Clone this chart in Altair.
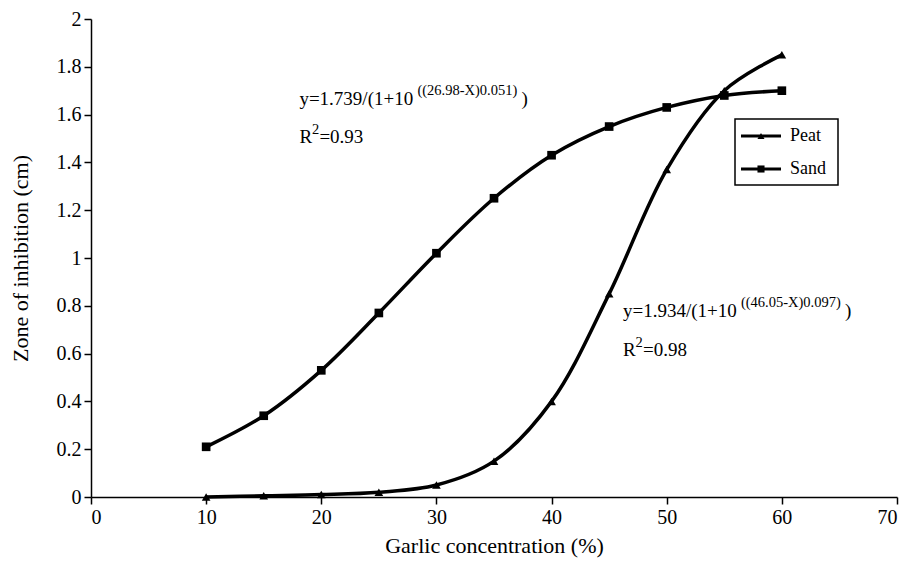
import altair as alt
import pandas as pd

conc = [10, 15, 20, 25, 30, 35, 40, 45, 50, 55, 60]
peat = [0.0, 0.005, 0.01, 0.02, 0.05, 0.15, 0.40, 0.85, 1.37, 1.70, 1.85]
sand = [0.21, 0.34, 0.53, 0.77, 1.02, 1.25, 1.43, 1.55, 1.63, 1.68, 1.70]

x_ticks = [0, 10, 20, 30, 40, 50, 60, 70]
y_ticks = [0, 0.2, 0.4, 0.6, 0.8, 1, 1.2, 1.4, 1.6, 1.8, 2]

series_names = ["Peat", "Sand"]
series_shapes = ["triangle-up", "square"]

# annotations (data units anchor)
eq_base = ["y=1.739/(1+10", "y=1.934/(1+10"]
eq_sup = ["((26.98-X)0.051)", "((46.05-X)0.097)"]
eq_x = [18.1, 46.2]
eq_y = [1.665, 0.78]
r2_vals = ["=0.93", "=0.98"]
r2_y = [1.505, 0.615]

W, H = 806, 478
FONT = "Liberation Serif"

df = pd.DataFrame({
    "x": conc * 2,
    "y": peat + sand,
    "s": ["Peat"] * len(conc) + ["Sand"] * len(conc),
})

xs = alt.Scale(domain=[0, 70], nice=False)
ys = alt.Scale(domain=[0, 2], nice=False)

xenc = alt.X("x:Q", scale=xs, axis=alt.Axis(
    values=x_ticks, title="Garlic concentration (%)", grid=False, format="~g",
    labelFontSize=20, titleFontSize=22,
    titleFontWeight="normal", labelColor="black", titleColor="black",
    domainColor="black", tickColor="black", tickSize=7, domainWidth=1.5,
    tickWidth=1.5, labelPadding=3, titlePadding=8))
yenc = alt.Y("y:Q", scale=ys, axis=alt.Axis(
    values=y_ticks, title="Zone of inhibition (cm)", grid=False, format="~g",
    labelFontSize=20, titleFontSize=22,
    titleFontWeight="normal", labelColor="black", titleColor="black",
    domainColor="black", tickColor="black", tickSize=7, domainWidth=1.5,
    tickWidth=1.5, labelPadding=3, titlePadding=24))

lines = alt.Chart(df).mark_line(color="black", strokeWidth=3.5,
                                interpolate="catmull-rom").encode(
    x=xenc, y=yenc, detail="s:N")
pts = alt.Chart(df).mark_point(filled=True, color="black", opacity=1, size=75).encode(
    x="x:Q", y="y:Q",
    shape=alt.Shape("s:N", scale=alt.Scale(domain=series_names, range=series_shapes), legend=None))

ann = pd.DataFrame({"x": eq_x, "y": eq_y, "base": eq_base, "sup": eq_sup,
                    "r2y": r2_y, "r2": r2_vals})
t_base = alt.Chart(ann).mark_text(fontSize=19, align="left", baseline="middle",
                                  color="black").encode(x="x:Q", y="y:Q", text="base:N")
t_sup = alt.Chart(ann).mark_text(fontSize=14.5, align="left", baseline="middle",
                                 color="black", dx=118, dy=-8).encode(x="x:Q", y="y:Q", text="sup:N")
t_close = alt.Chart(ann).mark_text(fontSize=19, align="left", baseline="middle",
                                   color="black", dx=222).encode(x="x:Q", y="y:Q", text=alt.value(")"))
t_R = alt.Chart(ann).mark_text(fontSize=19, align="left", baseline="middle",
                               color="black").encode(x="x:Q", y="r2y:Q", text=alt.value("R"))
t_2 = alt.Chart(ann).mark_text(fontSize=14.5, align="left", baseline="middle",
                               color="black", dx=12.5, dy=-7).encode(x="x:Q", y="r2y:Q", text=alt.value("2"))
t_r2 = alt.Chart(ann).mark_text(fontSize=19, align="left", baseline="middle",
                                color="black", dx=20).encode(x="x:Q", y="r2y:Q", text="r2:N")

# legend (pixel layout inside plot)
leg = pd.DataFrame({"s": series_names, "shape": series_shapes, "ly": [117, 150]})
box = alt.Chart(pd.DataFrame({"a": [0]})).mark_rect(
    fill="white", stroke="black", strokeWidth=1.5).encode(
    x=alt.value(644), x2=alt.value(747), y=alt.value(100), y2=alt.value(166))
leg_line = alt.Chart(leg).mark_rule(color="black", strokeWidth=3).encode(
    x=alt.value(650), x2=alt.value(690), y=alt.Y("ly:Q", scale=None))
leg_pt = alt.Chart(leg).mark_point(filled=True, color="black", opacity=1, size=50).encode(
    x=alt.value(670), y=alt.Y("ly:Q", scale=None),
    shape=alt.Shape("s:N", scale=alt.Scale(domain=series_names, range=series_shapes), legend=None))
leg_txt = alt.Chart(leg).mark_text(fontSize=18, align="left", baseline="middle",
                                   color="black").encode(
    x=alt.value(699), y=alt.Y("ly:Q", scale=None), text="s:N")

chart = alt.layer(lines, pts, t_base, t_sup, t_close, t_R, t_2, t_r2,
                  box, leg_line, leg_pt, leg_txt).properties(
    width=W, height=H,
    autosize=alt.AutoSizeParams(type="none"),
    padding={"left": 83, "top": 11, "right": 2, "bottom": 62},
    background="white",
).configure(font=FONT).configure_axis(labelFont=FONT, titleFont=FONT).configure_text(
    font=FONT).configure_view(stroke=None)

chart.save("out.html", embed_options={"renderer": "svg", "actions": False})
